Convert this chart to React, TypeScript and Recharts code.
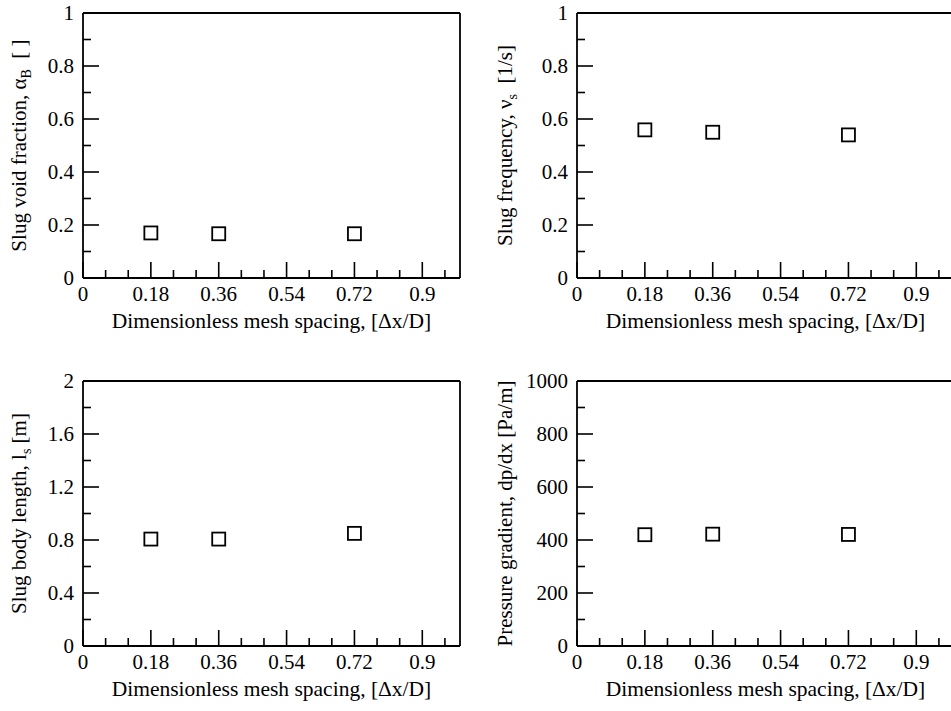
import React from 'react';
import { ScatterChart, Scatter, XAxis, YAxis, ReferenceLine } from 'recharts';

// ---------- data ----------
const meshSpacing = [0.18, 0.36, 0.72];
const voidFraction = [0.17, 0.167, 0.167];
const slugFrequency = [0.559, 0.55, 0.54];
const slugBodyLength = [0.807, 0.807, 0.85];
const pressureGradient = [420, 422, 421];

const xMajorTicks = [0, 0.18, 0.36, 0.54, 0.72, 0.9];
const xMinorTicks = [0.06, 0.12, 0.24, 0.3, 0.42, 0.48, 0.6, 0.66, 0.78, 0.84, 0.96];

const unitMajorTicks = [0, 0.2, 0.4, 0.6, 0.8, 1];
const unitMinorTicks = [0.1, 0.3, 0.5, 0.7, 0.9];
const lengthMajorTicks = [0, 0.4, 0.8, 1.2, 1.6, 2];
const lengthMinorTicks = [0.2, 0.6, 1.0, 1.4, 1.8];
const pressureMajorTicks = [0, 200, 400, 600, 800, 1000];
const pressureMinorTicks = [100, 300, 500, 700, 900];

const xTitle = 'Dimensionless mesh spacing, [\u0394x/D]';

// ---------- styling ----------
const FONT = '"Liberation Serif", "Times New Roman", serif';
const TICK_FS = 21;
const XT_FS = 21.5;
const YT_FS = 21;
const AXIS = { stroke: '#000', strokeWidth: 1.8 };
const PLOT_TOP = 13;
const PLOT_BOTTOM = 278;
const CH_W = 480;
const CH_H = 340;

type Side = 'bottom' | 'top' | 'left' | 'right';

const makeTick = (side: Side, majors: number[]) => (props: any) => {
  const { x, y, payload } = props;
  const v = payload.value;
  const major = majors.some((m) => Math.abs(m - v) < 1e-9);
  const len = major ? 16 : 8;
  let x2 = x;
  let y2 = y;
  if (side === 'bottom') y2 = y - len;
  if (side === 'top') y2 = y + len;
  if (side === 'left') x2 = x + len;
  if (side === 'right') x2 = x - len;
  let label = null;
  if (major && side === 'bottom') {
    label = (
      <text x={x} y={y + 23} textAnchor="middle" fontFamily={FONT} fontSize={TICK_FS} fill="#000">
        {String(v)}
      </text>
    );
  }
  if (major && side === 'left') {
    label = (
      <text x={x - 9} y={y + 7} textAnchor="end" fontFamily={FONT} fontSize={TICK_FS} fill="#000">
        {String(v)}
      </text>
    );
  }
  return (
    <g>
      <line x1={x} y1={y} x2={x2} y2={y2} stroke="#000" strokeWidth={1.6} />
      {label}
    </g>
  );
};

const Square = (props: any) => {
  const { cx, cy } = props;
  if (cx == null || cy == null) return null;
  const s = 13;
  return (
    <rect x={cx - s / 2} y={cy - s / 2} width={s} height={s} fill="#fff" stroke="#000" strokeWidth={1.8} />
  );
};

type PanelProps = {
  left: number;
  top: number;
  axisWidth: number;
  rightMargin: number;
  yDomain: [number, number];
  yMajor: number[];
  yMinor: number[];
  values: number[];
  titleX: number;
  yTitle: React.ReactNode;
};

function Panel(p: PanelProps) {
  const data = meshSpacing.map((x, i) => ({ x, y: p.values[i] }));
  const xTicks = [...xMajorTicks, ...xMinorTicks].sort((a, b) => a - b);
  const yTicks = [...p.yMajor, ...p.yMinor].sort((a, b) => a - b);
  const plotLeft = p.axisWidth;
  const plotRight = CH_W - p.rightMargin;
  const cx = (plotLeft + plotRight) / 2;
  const cy = (PLOT_TOP + PLOT_BOTTOM) / 2;
  return (
    <div style={{ position: 'absolute', left: p.left, top: p.top, width: CH_W, height: CH_H }}>
      <ScatterChart width={CH_W} height={CH_H} margin={{ top: PLOT_TOP, right: p.rightMargin, bottom: 0, left: 0 }}>
        <XAxis
          xAxisId="b"
          dataKey="x"
          type="number"
          domain={[0, 1]}
          allowDataOverflow
          ticks={xTicks}
          interval={0}
          tickLine={false}
          tickSize={0}
          tickMargin={0}
          height={CH_H - PLOT_BOTTOM}
          axisLine={AXIS}
          tick={makeTick('bottom', xMajorTicks)}
          label={{
            content: () => (
              <text x={cx} y={PLOT_BOTTOM + 50} textAnchor="middle" fontFamily={FONT} fontSize={XT_FS} fill="#000">
                {xTitle}
              </text>
            ),
          }}
        />
        <XAxis
          xAxisId="t"
          orientation="top"
          type="number"
          domain={[0, 1]}
          allowDataOverflow
          ticks={xTicks}
          interval={0}
          tickLine={false}
          tickSize={0}
          tickMargin={0}
          height={0}
          axisLine={AXIS}
          tick={makeTick('top', xMajorTicks)}
        />
        <YAxis
          yAxisId="l"
          dataKey="y"
          type="number"
          domain={p.yDomain}
          allowDataOverflow
          ticks={yTicks}
          interval={0}
          tickLine={false}
          tickSize={0}
          tickMargin={0}
          width={p.axisWidth}
          axisLine={AXIS}
          tick={makeTick('left', p.yMajor)}
          label={{
            content: () => (
              <text
                x={p.titleX}
                y={cy}
                transform={`rotate(-90, ${p.titleX}, ${cy})`}
                textAnchor="middle"
                fontFamily={FONT}
                fontSize={YT_FS}
                fill="#000"
                style={{ whiteSpace: 'pre' }}
              >
                {p.yTitle}
              </text>
            ),
          }}
        />
        <YAxis
          yAxisId="r"
          orientation="right"
          type="number"
          domain={p.yDomain}
          allowDataOverflow
          ticks={yTicks}
          interval={0}
          tickLine={false}
          tickSize={0}
          tickMargin={0}
          width={0}
          axisLine={AXIS}
          tick={makeTick('right', p.yMajor)}
        />
        <ReferenceLine xAxisId="b" yAxisId="l" y={p.yDomain[1]} stroke="#000" strokeWidth={1.8} ifOverflow="visible" />
        <ReferenceLine xAxisId="b" yAxisId="l" x={1} stroke="#000" strokeWidth={1.8} ifOverflow="visible" />
        <Scatter data={data} xAxisId="b" yAxisId="l" shape={Square} isAnimationActive={false} />
      </ScatterChart>
    </div>
  );
}

export default function App() {
  return (
    <div
      style={{
        position: 'absolute',
        left: 0,
        top: 0,
        width: 951,
        height: 711,
        overflow: 'hidden',
        background: '#fff',
      }}
    >
      <Panel
        left={0}
        top={0}
        axisWidth={83}
        rightMargin={20}
        yDomain={[0, 1]}
        yMajor={unitMajorTicks}
        yMinor={unitMinorTicks}
        values={voidFraction}
        titleX={26}
        yTitle={
          <>
            {'Slug void fraction, \u03b1'}
            <tspan dy={5} fontSize={14}>B</tspan>
            <tspan dy={-5}>{'  [ ]'}</tspan>
          </>
        }
      />
      <Panel
        left={480}
        top={0}
        axisWidth={97}
        rightMargin={6}
        yDomain={[0, 1]}
        yMajor={unitMajorTicks}
        yMinor={unitMinorTicks}
        values={slugFrequency}
        titleX={32}
        yTitle={
          <>
            {'Slug frequency, \u03bd'}
            <tspan dy={5} fontSize={14}>s</tspan>
            <tspan dy={-5}>{'  [1/s]'}</tspan>
          </>
        }
      />
      <Panel
        left={0}
        top={368}
        axisWidth={83}
        rightMargin={20}
        yDomain={[0, 2]}
        yMajor={lengthMajorTicks}
        yMinor={lengthMinorTicks}
        values={slugBodyLength}
        titleX={26}
        yTitle={
          <>
            {'Slug body length, l'}
            <tspan dy={5} fontSize={14}>s</tspan>
            <tspan dy={-5}>{' [m]'}</tspan>
          </>
        }
      />
      <Panel
        left={480}
        top={368}
        axisWidth={97}
        rightMargin={6}
        yDomain={[0, 1000]}
        yMajor={pressureMajorTicks}
        yMinor={pressureMinorTicks}
        values={pressureGradient}
        titleX={32}
        yTitle={'Pressure gradient, dp/dx [Pa/m]'}
      />
    </div>
  );
}
